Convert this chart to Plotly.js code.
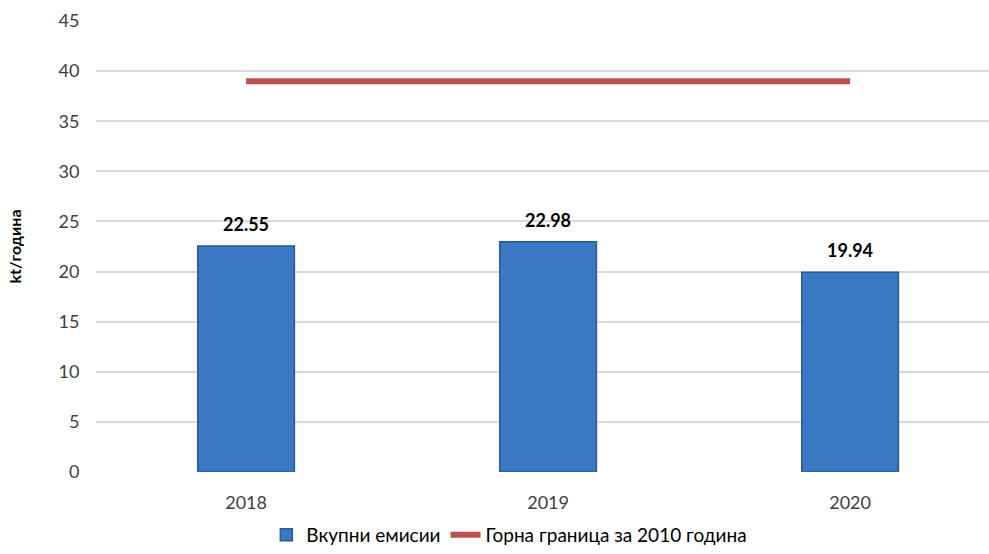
<!DOCTYPE html>
<html>
<head>
<meta charset="utf-8">
<script src="https://cdn.plot.ly/plotly-3.0.1.min.js"></script>
<style>html,body{margin:0;padding:0;background:#fff;}#chart{width:989px;height:554px;}</style>
</head>
<body>
<div id="chart"></div>
<script>
const years = ['2018', '2019', '2020'];
const emissions = [22.55, 22.98, 19.94];
const ceiling = [39, 39, 39];
const barName = 'Вкупни емисии';
const lineName = 'Горна граница за 2010 година';
const yTitle = 'kt/година';

const font = 'Lato, "Open Sans", "Liberation Sans", sans-serif';

const traces = [
  {
    type: 'bar', x: years, y: emissions, name: barName, width: 0.32,
    marker: {color: '#3b78c4', line: {color: '#2a5a96', width: 1.5}},
    hoverinfo: 'x+y'
  },
  {
    type: 'scatter', mode: 'lines', x: years, y: ceiling, name: lineName,
    line: {color: '#c0504d', width: 6}
  }
];

// category axis: annotation x is the category's index
const annotations = years.map((yr, i) => ({
  x: i, y: emissions[i], xref: 'x', yref: 'y', text: '<b>' + emissions[i].toFixed(2) + '</b>',
  showarrow: false, yanchor: 'bottom', yshift: 9, font: {family: font, size: 18, color: '#000'}
}));

const layout = {
  width: 989, height: 554,
  margin: {l: 96, r: 0, t: 21, b: 82, autoexpand: false},
  paper_bgcolor: '#fff', plot_bgcolor: '#fff',
  font: {family: font, color: '#404040', size: 17},
  showlegend: true,
  legend: {orientation: 'h', x: 0.515, xanchor: 'center', xref: 'container',
           y: 0.0, yanchor: 'bottom', yref: 'container',
           font: {family: font, size: 19, color: '#000'}, traceorder: 'normal'},
  xaxis: {type: 'category', range: [-0.497, 2.46], showgrid: false, zeroline: false,
          showline: false, ticks: 'outside', ticklen: 14, tickcolor: 'rgba(0,0,0,0)',
          tickfont: {family: font, size: 18, color: '#404040'}},
  yaxis: {range: [0, 45], dtick: 5, showgrid: true, gridcolor: '#d9d9d9', gridwidth: 2,
          zeroline: false, showline: false, ticks: 'outside', ticklen: 12,
          tickcolor: 'rgba(0,0,0,0)', tickfont: {family: font, size: 18, color: '#404040'},
          title: {text: '<b>' + yTitle + '</b>', standoff: 32, font: {family: font, size: 16, color: '#000'}}},
  annotations: annotations
};

Plotly.newPlot('chart', traces, layout, {displayModeBar: false, staticPlot: true});
</script>
</body>
</html>
